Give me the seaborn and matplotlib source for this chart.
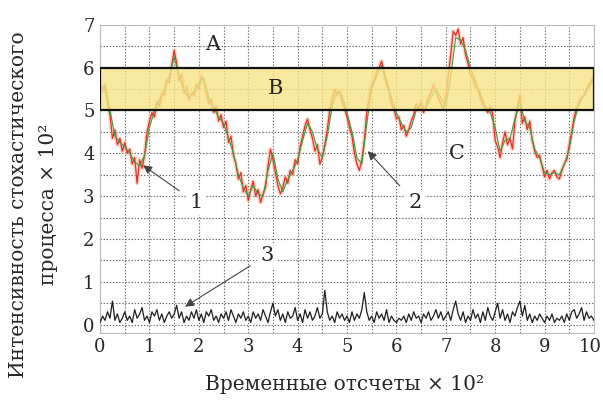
import numpy as np
import pandas as pd
import matplotlib
matplotlib.use("Agg")
import matplotlib.pyplot as plt
import matplotlib.transforms as mtransforms
import seaborn as sns

# Noisy process realisation (step 0.05 on the time axis, units of 10^2)
process_noisy = [
    5.65, 5.45, 5.6, 5.2, 4.9, 4.35, 4.55, 4.2, 4.35, 4.05,
    4.25, 4.0, 4.1, 3.75, 3.9, 3.3, 3.85, 3.65, 3.95, 4.5,
    4.75, 4.95, 4.85, 5.2, 5.1, 5.4, 5.35, 5.7, 5.65, 6.05,
    6.4, 6.1, 5.7, 5.85, 5.4, 5.55, 5.25, 5.4, 5.35, 5.6,
    5.5, 5.8, 5.7, 5.45, 5.15, 5.25, 4.95, 5.1, 4.75, 4.9,
    4.6, 4.75, 4.25, 4.4, 3.95, 3.75, 3.4, 3.55, 3.1, 3.25,
    2.9, 3.15, 3.35, 3.0, 3.15, 2.85, 3.05, 3.2, 3.7, 4.1,
    3.85, 3.55, 3.25, 3.05, 3.2, 3.45, 3.3, 3.6, 3.5, 3.85,
    3.75, 4.15, 4.4, 4.65, 4.8, 4.55, 4.35, 4.05, 4.2, 3.75,
    3.9, 4.2, 4.55, 5.0, 5.25, 5.5, 5.35, 5.45, 5.2, 5.05,
    4.85, 4.6, 4.4, 4.0, 3.75, 3.6, 3.85, 4.3, 4.95, 5.3,
    5.6, 5.7, 5.9, 6.0, 6.15, 5.9, 5.6, 5.45, 5.15, 5.05,
    4.8, 4.85, 4.55, 4.65, 4.4, 4.55, 4.75, 4.9, 5.15, 5.0,
    5.2, 4.95, 5.1, 5.3, 5.4, 5.6, 5.45, 5.3, 5.15, 5.05,
    5.3, 5.8, 6.3, 6.85, 6.75, 6.9, 6.55, 6.7, 6.3, 6.1,
    5.85, 5.75, 5.55, 5.5, 5.3, 5.15, 5.05, 4.95, 5.1, 4.9,
    4.3, 4.15, 3.9, 4.25, 4.5, 4.2, 4.35, 4.1, 4.75, 5.05,
    5.35, 4.7, 4.85, 4.55, 4.75, 4.3, 4.05, 3.9, 3.95, 3.7,
    3.45, 3.6, 3.4, 3.55, 3.6, 3.45, 3.4, 3.6, 3.75, 3.85,
    4.2, 4.5, 4.85, 5.05, 5.2, 5.3, 5.35, 5.5, 5.6, 5.7,
    5.8,
]

# Filtered estimate of the process (step 0.1)
process_filtered = [
    5.6, 5.5, 5.0, 4.4, 4.25, 4.15, 4.0, 3.8, 3.7, 3.95,
    4.6, 5.0, 5.25, 5.5, 5.8, 6.25, 5.8, 5.45, 5.3, 5.45,
    5.65, 5.75, 5.3, 5.05, 4.85, 4.7, 4.35, 4.0, 3.5, 3.2,
    3.0, 3.25, 3.05, 3.0, 3.6, 4.0, 3.4, 3.1, 3.4, 3.6,
    3.85, 4.3, 4.7, 4.5, 4.1, 3.9, 4.4, 5.1, 5.45, 5.35,
    4.95, 4.5, 3.9, 3.75, 4.7, 5.5, 5.8, 6.05, 5.7, 5.3,
    4.95, 4.7, 4.5, 4.6, 5.0, 5.15, 5.05, 5.3, 5.5, 5.3,
    5.1, 5.8, 6.7, 6.65, 6.4, 6.0, 5.7, 5.4, 5.1, 4.95,
    4.6, 4.05, 4.3, 4.35, 4.8, 5.2, 4.75, 4.6, 4.1, 3.9,
    3.55, 3.5, 3.55, 3.5, 3.75, 4.1, 4.75, 5.15, 5.35, 5.55,
    5.75,
]

# Estimation error (step 0.05)
estimation_error = [
    0.05, 0.2, 0.1, 0.3, 0.15, 0.55, 0.1, 0.25, 0.05, 0.15,
    0.3, 0.1, 0.2, 0.05, 0.35, 0.15, 0.25, 0.4, 0.1, 0.2,
    0.05, 0.3, 0.2, 0.35, 0.1, 0.25, 0.05, 0.2, 0.3, 0.15,
    0.25, 0.45, 0.15, 0.3, 0.05, 0.2, 0.1, 0.3, 0.15, 0.35,
    0.1, 0.25, 0.05, 0.3, 0.2, 0.35, 0.1, 0.2, 0.05, 0.25,
    0.15, 0.3, 0.1, 0.35, 0.2, 0.05, 0.25, 0.15, 0.3, 0.1,
    0.2, 0.05, 0.3, 0.15, 0.25, 0.1, 0.35, 0.2, 0.05, 0.3,
    0.5, 0.2, 0.35, 0.1, 0.25, 0.05, 0.3, 0.15, 0.2, 0.4,
    0.1, 0.25, 0.05, 0.35, 0.15, 0.3, 0.1, 0.2, 0.4, 0.15,
    0.25, 0.8, 0.3, 0.1, 0.2, 0.05, 0.3, 0.15, 0.25, 0.1,
    0.2, 0.05, 0.3, 0.1, 0.25, 0.15, 0.35, 0.75, 0.3, 0.1,
    0.2, 0.05, 0.3, 0.15, 0.25, 0.1, 0.35, 0.05, 0.2, 0.1,
    0.05, 0.15, 0.1, 0.2, 0.05, 0.25, 0.1, 0.3, 0.15, 0.2,
    0.05, 0.25, 0.15, 0.3, 0.1, 0.2, 0.35, 0.15, 0.3, 0.1,
    0.2, 0.3, 0.1, 0.35, 0.55, 0.25, 0.1, 0.3, 0.05, 0.2,
    0.1, 0.35, 0.15, 0.25, 0.05, 0.3, 0.1, 0.4, 0.2, 0.1,
    0.3, 0.5, 0.15, 0.35, 0.1, 0.25, 0.05, 0.3, 0.2, 0.4,
    0.55, 0.2, 0.45, 0.1, 0.25, 0.05, 0.2, 0.1, 0.25, 0.15,
    0.05, 0.2, 0.1, 0.25, 0.05, 0.15, 0.1, 0.2, 0.05, 0.25,
    0.1, 0.3, 0.35, 0.15, 0.25, 0.4, 0.1, 0.3, 0.15, 0.2,
    0.1,
]

x_ticks = list(range(0, 11))
y_ticks = list(range(0, 8))
band_low, band_high = 5.0, 6.0

noisy_df = pd.DataFrame({"t": np.linspace(0, 10, len(process_noisy)), "v": process_noisy})
filt_df = pd.DataFrame({"t": np.linspace(0, 10, len(process_filtered)), "v": process_filtered})
err_df = pd.DataFrame({"t": np.linspace(0, 10, len(estimation_error)), "v": estimation_error})

sns.set_theme(style="white")
plt.rcParams["font.family"] = ["DejaVu Serif"]

fig = plt.figure(figsize=(6.03, 4.0), dpi=100)
ax = fig.add_axes([0.166, 0.168, 0.819, 0.770])

sns.lineplot(data=noisy_df, x="t", y="v", ax=ax, color="#f6b49a", lw=3.0,
             alpha=0.55, estimator=None, sort=False, zorder=2)
sns.lineplot(data=noisy_df, x="t", y="v", ax=ax, color="#e3302a", lw=0.9,
             estimator=None, sort=False, zorder=3)
sns.lineplot(data=filt_df, x="t", y="v", ax=ax, color="#3f9a3c", lw=0.8,
             estimator=None, sort=False, zorder=4)
sns.lineplot(data=err_df, x="t", y="v", ax=ax, color="#1e1e1e", lw=0.9,
             estimator=None, sort=False, zorder=3)

ax.axhspan(band_low, band_high, facecolor="#f7e487", alpha=0.8,
           edgecolor="none", zorder=5)
ax.axhspan(band_low, band_high, facecolor="none", edgecolor="#111111",
           lw=1.6, zorder=6)

ax.set_xlim(0, 10)
ax.set_ylim(-0.19, 7.0)
ax.set_xticks(np.arange(0, 10.01, 0.5), minor=True)
ax.set_yticks(np.arange(0, 7.01, 0.5), minor=True)
ax.set_xticks(x_ticks)
ax.set_yticks(y_ticks)
ax.set_xticklabels([str(v) for v in x_ticks])
ax.set_yticklabels([str(v) for v in y_ticks])
ax.grid(True, which="both", color="#666666", lw=0.8, ls=(0, (1.2, 1.6)))
ax.set_axisbelow(True)
ax.tick_params(axis="both", which="both", length=0, labelsize=13, pad=4)
for s in ax.spines.values():
    s.set_color("#bbbbbb")
    s.set_linewidth(0.8)
ax.set_xlabel("")
ax.set_ylabel("")

# keep the last x tick label inside the figure
last = ax.get_xticklabels()[-1]
last.set_transform(last.get_transform() +
                   mtransforms.ScaledTranslation(-4 / 100, 0, fig.dpi_scale_trans))

fig.text(0.572, 0.038, "Временные отсчеты × 10²", ha="center", va="center", fontsize=14.5)
fig.text(0.03, 0.488, "Интенсивность стохастического", ha="center", va="center",
         rotation=90, fontsize=14.5)
fig.text(0.08, 0.488, "процесса × 10²", ha="center", va="center",
         rotation=90, fontsize=14.5)

for lab, (lx, ly) in {"A": (2.27, 6.55), "B": (3.55, 5.52), "C": (7.23, 3.99)}.items():
    ax.text(lx, ly, lab, ha="center", va="center", fontsize=15, zorder=8)

arrow_kw = dict(arrowstyle="-|>", color="#444444", lw=0.8, mutation_scale=13,
                shrinkA=6, shrinkB=0)
box = dict(boxstyle="square,pad=0.15", fc="white", ec="none")
ax.annotate("1", xy=(0.87, 3.72), xytext=(1.94, 2.85), ha="center", va="center",
            fontsize=15, bbox=box, arrowprops=arrow_kw, zorder=8)
ax.annotate("2", xy=(5.42, 4.05), xytext=(6.38, 2.85), ha="center", va="center",
            fontsize=15, bbox=box, arrowprops=arrow_kw, zorder=8)
ax.annotate("3", xy=(1.72, 0.42), xytext=(3.38, 1.62), ha="center", va="center",
            fontsize=15, bbox=box, arrowprops=arrow_kw, zorder=8)

fig.savefig("out.png", dpi=100)
